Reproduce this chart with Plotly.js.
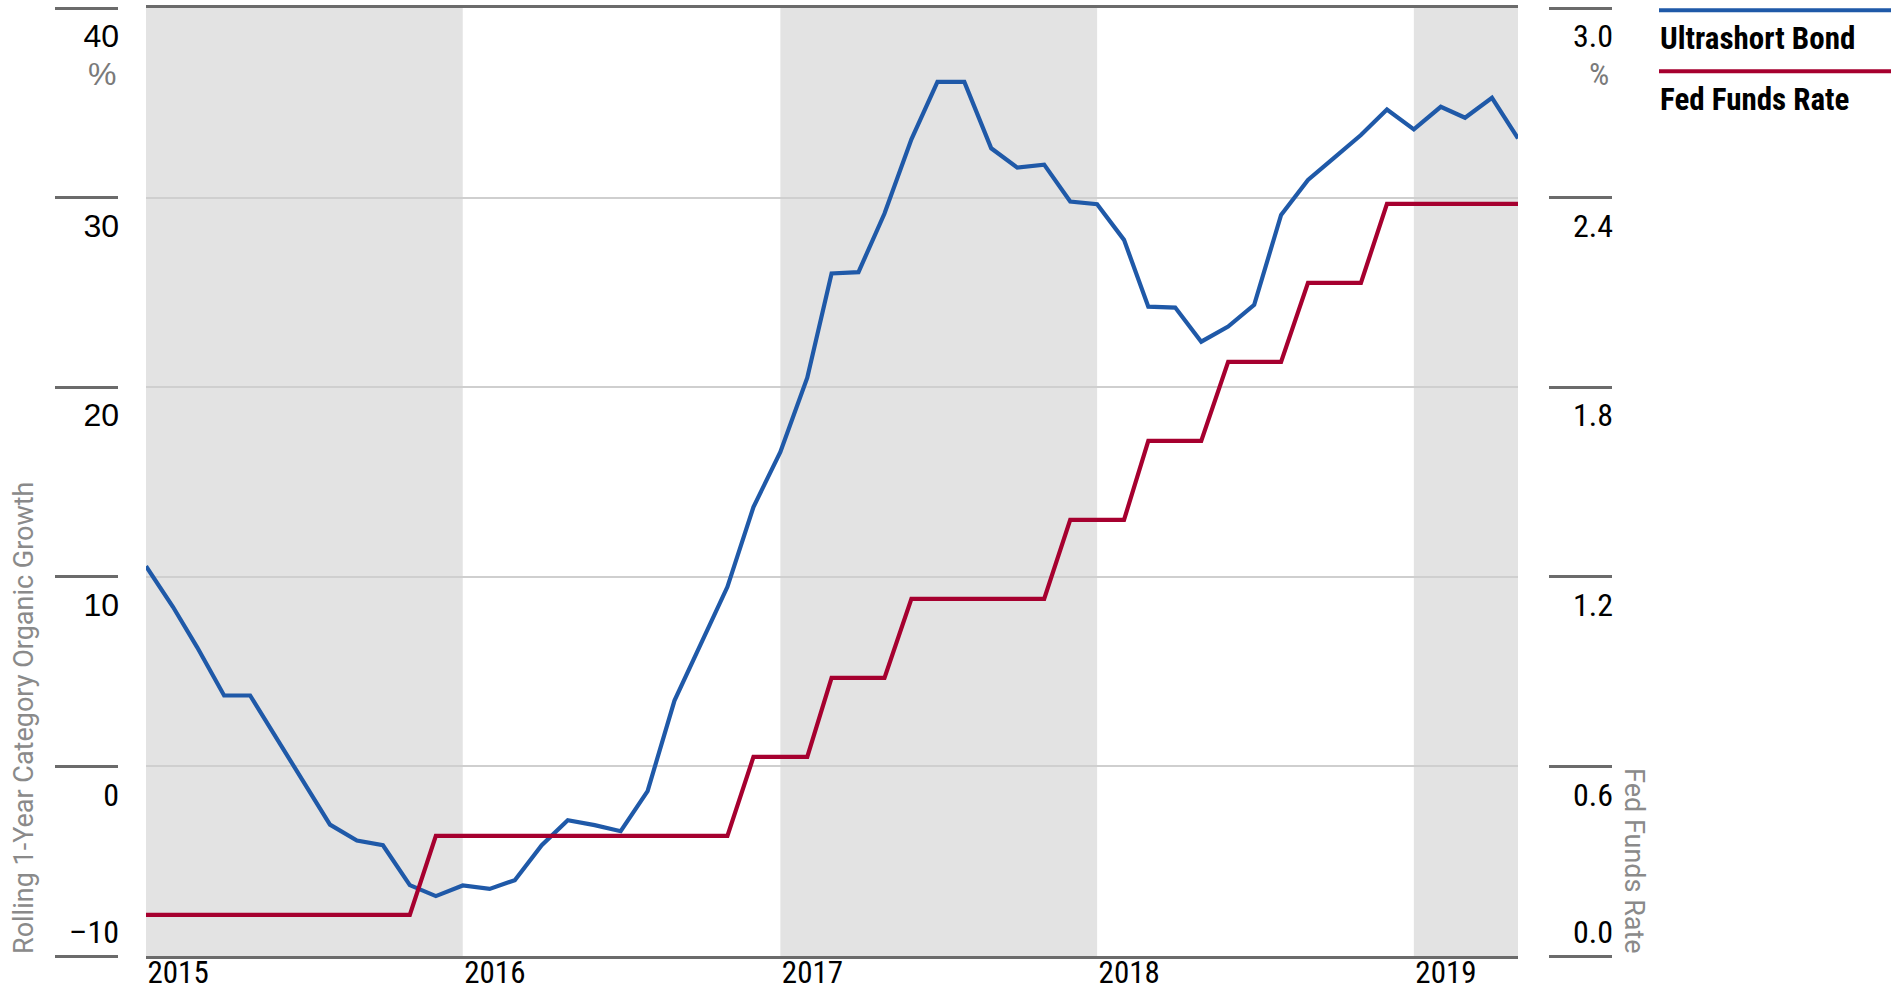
<!DOCTYPE html>
<html><head><meta charset="utf-8">
<script src="https://cdn.plot.ly/plotly-3.0.1.min.js"></script>
<style>html,body{margin:0;padding:0;background:#fff;} #chart{width:1891px;height:992px;}</style>
</head><body><div id="chart"></div>
<script>
// ---------- data ----------
const months = [
 '2015-01','2015-02','2015-03','2015-04','2015-05','2015-06','2015-07','2015-08','2015-09','2015-10','2015-11','2015-12',
 '2016-01','2016-02','2016-03','2016-04','2016-05','2016-06','2016-07','2016-08','2016-09','2016-10','2016-11','2016-12',
 '2017-01','2017-02','2017-03','2017-04','2017-05','2017-06','2017-07','2017-08','2017-09','2017-10','2017-11','2017-12',
 '2018-01','2018-02','2018-03','2018-04','2018-05','2018-06','2018-07','2018-08','2018-09','2018-10','2018-11','2018-12',
 '2019-01','2019-02','2019-03','2019-04','2019-05'];
const ultrashortBond = [
 10.56, 8.42, 6.28, 3.74, 3.74, 1.46, -0.79, -3.07, -3.91, -4.16, -6.26, -6.84,
 -6.28, -6.46, -6.00, -4.16, -2.84, -3.10, -3.42, -1.30, 3.47, 6.47, 9.47, 13.68,
 16.58, 20.50, 26.00, 26.07, 29.16, 33.07, 36.10, 36.10, 32.60, 31.58, 31.74, 29.79,
 29.65, 27.77, 24.25, 24.20, 22.40, 23.20, 24.34, 29.09, 30.93, 32.10, 33.30, 34.65,
 33.60, 34.79, 34.21, 35.26, 33.12];
const fedFundsRate = [
 0.13, 0.13, 0.13, 0.13, 0.13, 0.13, 0.13, 0.13, 0.13, 0.13, 0.13, 0.38,
 0.38, 0.38, 0.38, 0.38, 0.38, 0.38, 0.38, 0.38, 0.38, 0.38, 0.38, 0.63,
 0.63, 0.63, 0.88, 0.88, 0.88, 1.13, 1.13, 1.13, 1.13, 1.13, 1.13, 1.38,
 1.38, 1.38, 1.63, 1.63, 1.63, 1.88, 1.88, 1.88, 2.13, 2.13, 2.13, 2.38,
 2.38, 2.38, 2.38, 2.38, 2.38];
const seriesNames = ['Ultrashort Bond', 'Fed Funds Rate'];
const yearTicks = ['2015-01-01','2016-01-01','2017-01-01','2018-01-01','2019-01-01'];
const yearLabels = ['2015','2016','2017','2018','2019'];
const shadedStarts = ['2015-01-01','2017-01-01','2019-01-01'];
const shadedEnds = ['2016-01-01','2018-01-01','2019-05-01'];
const leftTicks = [-10, 0, 10, 20, 30, 40];
const leftLabels = ['\u201310', '0', '10', '20', '30', '40'];
const rightTicks = [0, 0.6, 1.2, 1.8, 2.4, 3.0];
const rightLabels = ['0.0', '0.6', '1.2', '1.8', '2.4', '3.0'];
const leftTitle = 'Rolling 1-Year Category Organic Growth';
const rightTitle = 'Fed Funds Rate';
const unitLabel = '%';

// ---------- style ----------
const NARROW = '"Noto Sans Condensed", "Roboto Condensed", "Liberation Sans Narrow", "DejaVu Sans Condensed", Roboto, sans-serif';
const REG = '"Liberation Sans", Arial, sans-serif';
const TITLEF = 'Roboto, "Liberation Sans", sans-serif';
const BLUE = '#1f59a8', RED = '#a6002f', DARK = '#6b6b6b', GRID = '#cfcfcf', BAND = '#e3e3e3';
const narrowSpan = t => "<span style=\"font-family:'Noto Sans Condensed','Roboto Condensed','Liberation Sans Narrow',Roboto\">" + t + "</span>";

const leftMin = leftTicks[0], leftMax = leftTicks[leftTicks.length - 1];
const rightMin = rightTicks[0], rightMax = rightTicks[rightTicks.length - 1];
const xRange = [months[0], months[months.length - 1]];

const ghost = (y, ax) => ({x: months, y: y, yaxis: ax, type: 'scatter', mode: 'lines',
  line: {width: 0, color: 'rgba(0,0,0,0)'}, opacity: 0, hoverinfo: 'skip', showlegend: false});

const traces = [
  {x: months, y: ultrashortBond, name: seriesNames[0], type: 'scatter', mode: 'lines',
   line: {color: BLUE, width: 4.2}, yaxis: 'y', hoverinfo: 'skip'},
  {x: months, y: fedFundsRate, name: seriesNames[1], type: 'scatter', mode: 'lines',
   line: {color: RED, width: 4.2}, yaxis: 'y2', hoverinfo: 'skip'},
  ghost(ultrashortBond, 'y3'), ghost(fedFundsRate, 'y4'),
  ghost(ultrashortBond, 'y5'), ghost(fedFundsRate, 'y6')
];

const hidden = {showgrid: false, zeroline: false, showline: false, fixedrange: true};

// plot area (margins) used for paper-placed decorations
const M = {l: 40, r: 251, t: 8, b: 36};
const PW = 1891 - M.l - M.r, PH = 992 - M.t - M.b;
const px = x => (x - M.l) / PW;
const py = y => (992 - M.b - y) / PH;

const shapes = shadedStarts.map((s, i) => ({
  type: 'rect', xref: 'x', yref: 'paper', x0: s, x1: shadedEnds[i], y0: 0, y1: 1,
  fillcolor: BAND, line: {width: 0}, layer: 'below'
}));
// legend swatch lines (above each label)
shapes.push({type: 'line', xref: 'paper', yref: 'paper', x0: px(1659), x1: px(1895), y0: py(10.3), y1: py(10.3), line: {color: BLUE, width: 4}});
shapes.push({type: 'line', xref: 'paper', yref: 'paper', x0: px(1659), x1: px(1895), y0: py(71.3), y1: py(71.3), line: {color: RED, width: 4}});

const annotations = [
  {xref: 'paper', x: px(118), xanchor: 'right', yref: 'y', y: leftMax, yanchor: 'middle', yshift: -66,
   text: unitLabel, showarrow: false, font: {family: REG, size: 32, color: '#7a7a7a'}},
  {xref: 'paper', x: px(1611), xanchor: 'right', yref: 'y2', y: rightMax, yanchor: 'middle', yshift: -66,
   text: unitLabel, showarrow: false, font: {family: NARROW, size: 32, color: '#7a7a7a'}},
  {xref: 'paper', x: px(24), xanchor: 'center', yref: 'y', y: leftMin, yanchor: 'bottom', textangle: -90,
   text: leftTitle, showarrow: false, font: {family: TITLEF, size: 27, color: '#8a8a8a'}},
  {xref: 'paper', x: px(1634), xanchor: 'center', yref: 'y2', y: rightMin, yanchor: 'bottom', textangle: 90,
   text: rightTitle, showarrow: false, font: {family: TITLEF, size: 27, color: '#8a8a8a'}},
  {xref: 'paper', x: px(1658), xanchor: 'left', yref: 'paper', y: py(38.5), yanchor: 'middle',
   text: '<b>' + seriesNames[0] + '</b>', showarrow: false, font: {family: NARROW, size: 31, color: '#000'}},
  {xref: 'paper', x: px(1658), xanchor: 'left', yref: 'paper', y: py(99), yanchor: 'middle',
   text: '<b>' + seriesNames[1] + '</b>', showarrow: false, font: {family: NARROW, size: 31, color: '#000'}}
];

const layout = {
  width: 1891, height: 992,
  margin: {l: M.l, r: M.r, t: M.t, b: M.b, pad: 0},
  paper_bgcolor: '#ffffff', plot_bgcolor: 'rgba(0,0,0,0)',
  showlegend: false,
  xaxis: {type: 'date', domain: [px(146), px(1518)], range: xRange, tickmode: 'array',
    tickvals: yearTicks, ticktext: yearLabels, ticks: '', showgrid: false, zeroline: false,
    showline: true, mirror: true, linecolor: DARK, linewidth: 3,
    ticklabelposition: 'outside right', ticklabelstandoff: -13,
    tickfont: {family: NARROW, size: 31, color: '#000'}, fixedrange: true},
  yaxis: Object.assign({}, hidden, {range: [leftMin, leftMax], tickmode: 'array',
    tickvals: leftTicks.slice(1), ticktext: leftLabels.slice(1).map(t => t === '0' ? narrowSpan(t) : t),
    showgrid: true, gridcolor: GRID, gridwidth: 2, ticks: '',
    tickfont: {family: REG, size: 32, color: '#000'}, ticklabelshift: 28, ticklabelstandoff: 26}),
  yaxis3: Object.assign({}, hidden, {overlaying: 'y', side: 'left', anchor: 'x', range: [leftMin, leftMax],
    tickmode: 'array', tickvals: leftTicks.slice(0, 1), ticktext: leftLabels.slice(0, 1).map(narrowSpan), ticks: '',
    tickfont: {family: REG, size: 32, color: '#000'}, ticklabelshift: -24, ticklabelstandoff: 26}),
  yaxis2: Object.assign({}, hidden, {overlaying: 'y', side: 'right', anchor: 'x', range: [rightMin, rightMax],
    tickmode: 'array', tickvals: rightTicks.slice(1), ticktext: rightLabels.slice(1), ticks: '',
    tickfont: {family: NARROW, size: 32, color: '#000'}, ticklabelshift: 28, ticklabelstandoff: 54}),
  yaxis4: Object.assign({}, hidden, {overlaying: 'y', side: 'right', anchor: 'x', range: [rightMin, rightMax],
    tickmode: 'array', tickvals: rightTicks.slice(0, 1), ticktext: rightLabels.slice(0, 1), ticks: '',
    tickfont: {family: NARROW, size: 32, color: '#000'}, ticklabelshift: -24, ticklabelstandoff: 54}),
  yaxis5: Object.assign({}, hidden, {overlaying: 'y', side: 'left', anchor: 'free', position: px(118),
    range: [leftMin, leftMax], tickmode: 'array', tickvals: leftTicks, showticklabels: false,
    ticks: 'outside', ticklen: 63, tickwidth: 3, tickcolor: DARK}),
  yaxis6: Object.assign({}, hidden, {overlaying: 'y', side: 'right', anchor: 'free', position: px(1548),
    range: [rightMin, rightMax], tickmode: 'array', tickvals: rightTicks, showticklabels: false,
    ticks: 'outside', ticklen: 63, tickwidth: 3, tickcolor: DARK}),
  shapes: shapes,
  annotations: annotations
};

Plotly.newPlot('chart', traces, layout, {displayModeBar: false, staticPlot: true});
</script>
</body></html>
